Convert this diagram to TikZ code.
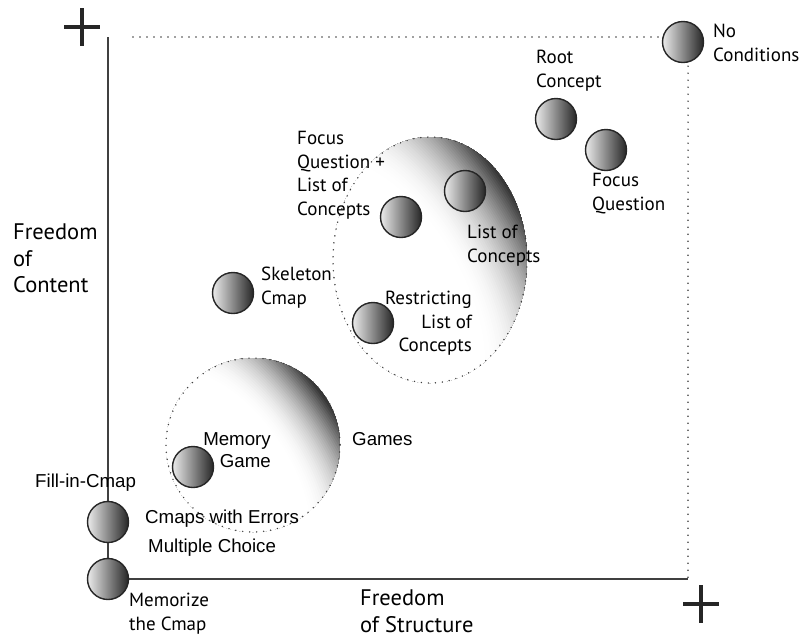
\documentclass[tikz,border=0pt]{standalone}
\usepackage{fontspec}
\setmainfont{PT Sans}
\newfontfamily\arialfont{Liberation Sans}
\usepackage{tikz}
\usetikzlibrary{calc}

\tikzset{
	ball/.style={circle, draw=black!85, line width=1.4pt, minimum size=41pt, inner sep=0pt, left color=black!8, right color=black!85},
	lbl/.style={inner sep=0pt, align=left, text=black, font=\fontsize{19}{23.5}\selectfont},
	hlbl/.style={lbl, font=\arialfont\fontsize{18.7}{22}\selectfont},
	axtitle/.style={lbl, font=\fontsize{22.5}{26.5}\selectfont},
	dots/.style={draw=black!75, line width=1.6pt, line cap=round, dash pattern=on 0pt off 7pt},
	axis/.style={draw=black!75, line width=2pt},
	crossmark/.style={draw=black!85, line width=3.5pt}
}

\begin{document}
\begin{tikzpicture}[x=1pt, y=-1pt]
			\useasboundingbox (0,0) rectangle (804,638);

			% shaded group: lists of concepts
			\begin{scope}
				\clip (430,260) ellipse [x radius=97, y radius=123];
				\fill[black!80] (430,260) ellipse [x radius=100, y radius=126];
				\foreach \r in {170,168,...,70} {
					\pgfmathsetmacro\g{80*pow(min(1,max(0,(\r-70)/85)),2)}
					\fill[black!\g] (390,290) ellipse [x radius=\r, y radius=2*\r, rotate=30];
				}
			\end{scope}
			\draw[dots] (430,260) ellipse [x radius=97, y radius=123];

			% shaded group: games
			\begin{scope}
				\clip (253,445) circle [radius=87];
				\fill[black!80] (253,445) circle [radius=90];
				\foreach \r in {125,123,...,55} {
					\pgfmathsetmacro\g{80*pow(min(1,max(0,(\r-55)/65)),2)}
					\fill[black!\g] (230,470) ellipse [x radius=\r, y radius=2*\r, rotate=35];
				}
			\end{scope}
			\draw[dots] (253,445) circle [radius=87];

			% axes
			\coordinate (ytop) at (108,37);
			\coordinate (origin) at (108,579);
			\coordinate (xend) at (688,579);
			\coordinate (dstart) at (133,37);
			\draw[axis] (ytop) -- (origin) -- (xend);

			\coordinate (plusy) at (82,27);
			\coordinate (plusx) at (701,604);
			\foreach \m in {plusy, plusx}
				\draw[crossmark] (\m) +(-18,0) -- +(18,0) (\m) +(0,-19) -- +(0,19);

			% balls
			\node[ball] (noc) at (683,42) {};
			\node[ball] (root) at (556,119) {};
			\node[ball] (focq) at (606,150) {};
			\node[ball] (listc) at (465,191) {};
			\node[ball] (fqlist) at (401,217) {};
			\node[ball] (restr) at (373,323) {};
			\node[ball] (skel) at (233,293) {};
			\node[ball] (memg) at (193,467) {};
			\node[ball] (fill) at (108,522) {};
			\node[ball] (memo) at (origin) {};

			\draw[dots] (dstart) -- (dstart -| noc.west);
			\draw[dots] ($(noc.south -| xend)+(0,3)$) -- (xend);

			% labels
			\node[lbl, anchor=north west] (noclbl) at (713,24) {No\\Conditions};
			\node[lbl, anchor=north west] (rootlbl) at (536,50) {Root\\Concept};
			\node[lbl, anchor=north west] (focqlbl) at (592,173) {Focus\\Question};
			\node[lbl, anchor=north west] (fqlistlbl) at (297,131) {Focus\\Question +\\List of\\Concepts};
			\node[lbl, anchor=north west] (listclbl) at (467,225) {List of\\Concepts};
			\node[lbl, anchor=north west] (skellbl) at (261,267) {Skeleton\\Cmap};
			\node[lbl, align=right, anchor=north east] (restrlbl) at (472,291) {Restricting\\List of\\Concepts};
			\node[hlbl, align=right, anchor=north east] (memglbl) at (271,432) {Memory\\Game};
			\node[hlbl, anchor=base west] (gameslbl) at (352,445) {Games};
			\node[hlbl, anchor=base west] (filllbl) at (35,487) {Fill-in-Cmap};
			\node[hlbl, anchor=base west] (errlbl) at (145,523) {Cmaps with Errors};
			\node[hlbl, anchor=base west] (mclbl) at (148,552) {Multiple Choice};
			\node[lbl, anchor=north west] (memolbl) at (129,593) {Memorize\\the Cmap};

			\node[axtitle, anchor=north west] (ytitle) at (13,224) {Freedom\\of\\Content};
			\node[axtitle, anchor=north west] (xtitle) at (360,590) {Freedom\\of Structure};
		\end{tikzpicture}
\end{document}
